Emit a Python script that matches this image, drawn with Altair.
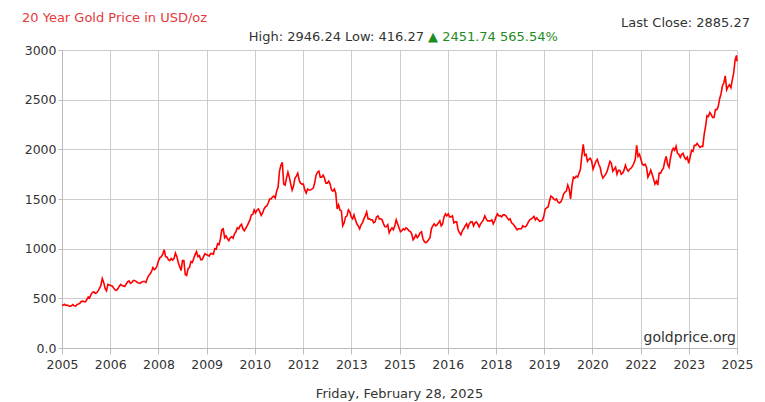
import altair as alt
import pandas as pd

# Semi-monthly gold prices (USD/oz)
p2005 = [430, 440, 428, 432, 425, 418, 425, 437, 425, 422, 436, 442, 450, 468, 472, 468, 465, 488, 515, 505]  # Mar-Dec
p2006 = [540, 560, 565, 550, 555, 575, 600, 630, 700, 660, 600, 575, 640, 635, 630, 625, 605, 585, 580, 595, 620, 640, 630, 625]
p2007 = [620, 645, 665, 675, 650, 660, 680, 680, 670, 660, 655, 650, 665, 670, 670, 660, 700, 730, 745, 770, 810, 790, 800, 830]
p2008 = [880, 910, 920, 945, 990, 920, 915, 890, 880, 900, 885, 900, 955, 920, 860, 820, 780, 880, 880, 740, 730, 800, 810, 870]
p2009 = [860, 900, 940, 970, 920, 930, 890, 890, 920, 950, 940, 935, 925, 950, 950, 945, 1000, 995, 1050, 1040, 1100, 1190, 1200, 1110]
p2010 = [1130, 1100, 1080, 1110, 1120, 1105, 1150, 1170, 1210, 1200, 1230, 1245, 1200, 1180, 1205, 1230, 1260, 1290, 1340, 1345, 1390, 1360, 1390, 1400]
p2011 = [1370, 1335, 1360, 1400, 1420, 1430, 1460, 1500, 1500, 1520, 1530, 1510, 1580, 1620, 1780, 1840, 1870, 1650, 1640, 1710, 1770, 1720, 1650, 1590]
p2012 = [1630, 1710, 1730, 1760, 1690, 1660, 1650, 1650, 1590, 1560, 1600, 1590, 1590, 1600, 1610, 1660, 1740, 1770, 1780, 1720, 1720, 1740, 1710, 1660]
p2013 = [1660, 1680, 1650, 1590, 1580, 1600, 1560, 1400, 1440, 1390, 1380, 1230, 1260, 1320, 1330, 1390, 1370, 1320, 1300, 1340, 1290, 1250, 1230, 1200]
p2014 = [1240, 1260, 1300, 1330, 1370, 1300, 1300, 1290, 1290, 1260, 1270, 1320, 1330, 1300, 1300, 1290, 1250, 1220, 1220, 1240, 1160, 1190, 1210, 1190]
p2015 = [1230, 1290, 1250, 1210, 1170, 1180, 1200, 1190, 1210, 1200, 1180, 1175, 1150, 1090, 1110, 1140, 1110, 1130, 1160, 1170, 1100, 1070, 1060, 1070]
p2016 = [1090, 1110, 1200, 1230, 1250, 1230, 1240, 1260, 1280, 1230, 1250, 1320, 1350, 1330, 1350, 1320, 1320, 1330, 1260, 1270, 1270, 1190, 1160, 1140]
p2017 = [1180, 1200, 1230, 1250, 1210, 1250, 1270, 1270, 1230, 1260, 1270, 1250, 1220, 1250, 1270, 1290, 1330, 1300, 1280, 1280, 1280, 1290, 1250, 1280]
p2018 = [1320, 1350, 1330, 1330, 1320, 1340, 1340, 1330, 1310, 1290, 1300, 1260, 1250, 1230, 1210, 1190, 1200, 1200, 1200, 1230, 1220, 1220, 1240, 1270]
p2019 = [1290, 1300, 1310, 1325, 1290, 1310, 1290, 1275, 1280, 1285, 1330, 1400, 1410, 1420, 1480, 1530, 1520, 1500, 1490, 1500, 1470, 1460, 1470, 1500]
p2020 = [1550, 1570, 1580, 1640, 1600, 1500, 1640, 1720, 1710, 1730, 1720, 1760, 1800, 1940, 2050, 1940, 1950, 1880, 1900, 1910, 1880, 1800, 1840, 1880]
p2021 = [1900, 1850, 1820, 1750, 1710, 1730, 1750, 1780, 1830, 1880, 1860, 1780, 1800, 1820, 1750, 1790, 1790, 1750, 1760, 1790, 1840, 1800, 1780, 1800]
p2022 = [1810, 1830, 1860, 1900, 2040, 1930, 1950, 1900, 1850, 1840, 1850, 1820, 1720, 1750, 1790, 1750, 1700, 1650, 1680, 1640, 1760, 1760, 1790, 1810]
p2023 = [1880, 1930, 1850, 1820, 1910, 1980, 2010, 1990, 2030, 1960, 1950, 1920, 1950, 1960, 1920, 1900, 1920, 1860, 1920, 1990, 1980, 2040, 2040, 2060]
p2024 = [2040, 2020, 2030, 2030, 2150, 2230, 2340, 2330, 2370, 2350, 2320, 2320, 2400, 2400, 2430, 2510, 2560, 2640, 2670, 2740, 2600, 2630, 2650, 2620]
p2025 = [2700, 2770, 2900, 2946]  # Jan-Feb
start_value = 428
last_close = 2885.27

y_ticks = [0, 500, 1000, 1500, 2000, 2500, 3000]
x_tick_labels = [2005, 2006, 2008, 2009, 2010, 2012, 2013, 2015, 2016, 2018, 2019, 2020, 2022, 2023, 2025]

x_start, x_end = 2005.16, 2025.16

rows = [{"t": x_start, "price": start_value}]
years = {2005: (p2005, 2), 2006: (p2006, 0), 2007: (p2007, 0), 2008: (p2008, 0), 2009: (p2009, 0),
         2010: (p2010, 0), 2011: (p2011, 0), 2012: (p2012, 0), 2013: (p2013, 0), 2014: (p2014, 0),
         2015: (p2015, 0), 2016: (p2016, 0), 2017: (p2017, 0), 2018: (p2018, 0), 2019: (p2019, 0),
         2020: (p2020, 0), 2021: (p2021, 0), 2022: (p2022, 0), 2023: (p2023, 0), 2024: (p2024, 0),
         2025: (p2025, 0)}
for yr, (vals, m0) in years.items():
    for i, v in enumerate(vals):
        rows.append({"t": yr + (m0 * 2 + i + 0.5) / 24, "price": v})
rows.append({"t": x_end, "price": last_close})
df = pd.DataFrame(rows)

n = len(x_tick_labels) - 1
x_ticks = [x_start + k * (x_end - x_start) / n for k in range(n + 1)]

FONT = "DejaVu Sans"
W, H = 675, 298

line = alt.Chart(df).mark_line(color="#ff0000", strokeWidth=1.6).encode(
    x=alt.X("t:Q", scale=alt.Scale(domain=[x_start, x_end], nice=False, zero=False),
            axis=alt.Axis(values=x_ticks, labelExpr="floor(datum.value)", title=None,
                          grid=True, tickSize=6, labelPadding=4, labelFlush=False,
                          labelOverlap=False)),
    y=alt.Y("price:Q", scale=alt.Scale(domain=[0, 3000], nice=False),
            axis=alt.Axis(values=y_ticks, labelExpr="datum.value == 0 ? '0.0' : datum.value",
                          title=None, grid=True, tickSize=4, labelPadding=2,
                          labelFlush=False)),
)

one = pd.DataFrame([{"a": 1}])

def txt(text, x, y, color="#333333", size=13, align="left", baseline="alphabetic"):
    return alt.Chart(one).mark_text(text=text, color=color, fontSize=size, font=FONT,
                                    align=align, baseline=baseline).encode(
        x=alt.value(x), y=alt.value(y))

texts = [
    txt("20 Year Gold Price in USD/oz", -40, -28, color="#e8383d"),
    txt("Last Close: 2885.27", 688, -23, align="right"),
    txt("High: 2946.24 Low: 416.27", 362, -9, align="right"),
    txt("\u25B2 2451.74 565.54%", 366, -9, color="#1e8c1e"),
    txt("goldprice.org", 674, -6 + H, size=14, align="right"),
    txt("Friday, February 28, 2025", W / 2, 50 + H, align="center"),
]

chart = alt.layer(line, *texts).properties(
    width=W, height=H,
    autosize=alt.AutoSizeParams(type="none"),
    padding={"left": 54, "top": 42, "right": 20, "bottom": 54},
    background="white",
).configure_view(stroke=None).configure_axis(
    labelFont=FONT, labelFontSize=12.5, labelColor="#333333",
    gridColor="#cccccc", domainColor="#bbbbbb", tickColor="#bbbbbb",
)

chart.save("out.html", embed_options={"renderer": "svg", "actions": False})
